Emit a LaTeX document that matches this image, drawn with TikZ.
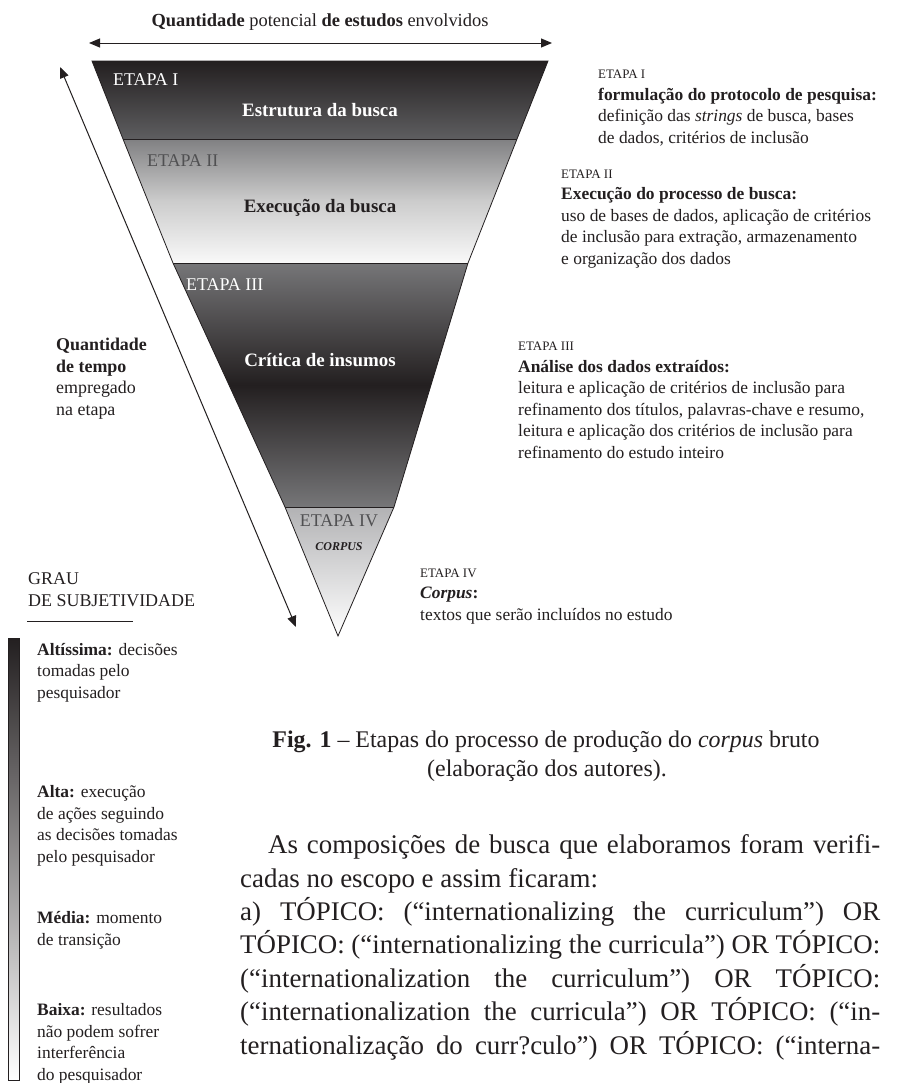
\documentclass[tikz,border=0pt]{standalone}
\usepackage{fontspec}
\setmainfont{Liberation Serif}
\usetikzlibrary{arrows.meta,positioning}

\definecolor{tinta}{HTML}{231F20}
\definecolor{cinzaI}{HTML}{5E5E60}
\definecolor{cinzaII}{HTML}{808082}
\definecolor{cinzaIII}{HTML}{767678}
\definecolor{cinzaIV}{HTML}{B2B2B4}
\definecolor{rotuloII}{HTML}{505052}

\begin{document}
\begin{tikzpicture}[x=1bp,y=-1bp,
  contorno/.style={draw=tinta, line width=0.8bp},
  seta/.style={{Triangle[length=11bp,width=9bp]}-{Triangle[length=11bp,width=9bp]}, line width=1bp, draw=tinta},
  etapa/.style={anchor=west, inner sep=0pt, font=\fontsize{18}{20}\selectfont},
  fase/.style={inner sep=0pt, font=\fontsize{19}{21}\selectfont\bfseries},
  bloco/.style={anchor=base west, align=left, inner sep=0pt, text=tinta, font=\fontsize{17.5}{21.5}\selectfont},
  texto/.style={anchor=base west, inner sep=0pt, text=tinta, font=\fontsize{27}{33}\selectfont},
  legenda/.style={inner sep=0pt, text=tinta, font=\fontsize{24}{29}\selectfont},
]
  \useasboundingbox[fill=white] (0,0) rectangle (901,1083);

  % Vértices do funil
  \coordinate (t0l) at (92,61);   \coordinate (t0r) at (548,61);
  \coordinate (t1l) at (123,139); \coordinate (t1r) at (517,139);
  \coordinate (t2l) at (173,263); \coordinate (t2r) at (468,263);
  \coordinate (t3l) at (285,507); \coordinate (t3r) at (394,507);
  \coordinate (apice) at (338,636);

  % Faixas com degradê
  \shade[top color=tinta, bottom color=cinzaI] (t0l) -- (t0r) -- (t1r) -- (t1l) -- cycle;
  \shade[top color=cinzaII, bottom color=gray!5, middle color=gray!40] (t1l) -- (t1r) -- (t2r) -- (t2l) -- cycle;
  \shade[top color=cinzaIII, bottom color=cinzaIII, middle color=tinta] (t2l) -- (t2r) -- (t3r) -- (t3l) -- cycle;
  \shade[top color=cinzaIV, bottom color=white] (t3l) -- (t3r) -- (apice) -- cycle;

  % Contorno e divisões
  \draw[contorno] (t0l) -- (t0r) -- (t1r) -- (t2r) -- (t3r) -- (apice) -- (t3l) -- (t2l) -- (t1l) -- cycle;
  \draw[contorno] (t1l) -- (t1r);
  \draw[contorno] (t2l) -- (t2r);
  \draw[contorno] (t3l) -- (t3r);

  % Rótulos dentro do funil
  \node[etapa, text=white] (e1) at (113,80) {ETAPA I};
  \node[fase, text=white] (f1) at (320,110) {Estrutura da busca};
  \node[etapa, text=rotuloII] (e2) at (147,161) {ETAPA II};
  \node[fase, text=tinta] (f2) at (320,208) {Execução da busca};
  \node[etapa, text=white] (e3) at (186,285) {ETAPA III};
  \node[fase, text=white] (f3) at (320,360) {Crítica de insumos};
  \node[etapa, anchor=center, text=rotuloII] (e4) at (339,521) {ETAPA IV};
  \node[inner sep=0pt, text=tinta, font=\fontsize{12}{14}\selectfont\bfseries\itshape] (f4) at (339,547) {CORPUS};

  % Seta horizontal: quantidade de estudos
  \coordinate (qe) at (89,43);
  \coordinate (qd) at (552,43);
  \draw[seta] (qe) -- (qd);
  \node[inner sep=0pt, text=tinta, font=\fontsize{18.5}{21}\selectfont] (titulo) at (320,22) {\textbf{Quantidade} potencial \textbf{de estudos} envolvidos};

  % Seta inclinada: quantidade de tempo
  \coordinate (te) at (60,67);
  \coordinate (tb) at (296,627);
  \draw[seta] (te) -- (tb);
  \node[bloco, font=\fontsize{18}{21.5}\selectfont] (tempo) at (56,415) {\textbf{Quantidade}\\\textbf{de tempo}\\empregado\\na etapa};

  % Descrições das etapas (âncora na última linha)
  \node[bloco] (d1) at (598,143) {{\fontsize{13}{14}\selectfont ETAPA I}\\\textbf{formulação do protocolo de pesquisa:}\\definição das \textit{strings} de busca, bases\\de dados, critérios de inclusão};
  \node[bloco] (d2) at (561,264) {{\fontsize{13}{14}\selectfont ETAPA II}\\\textbf{Execução do processo de busca:}\\uso de bases de dados, aplicação de critérios\\de inclusão para extração, armazenamento\\e organização dos dados};
  \node[bloco] (d3) at (518,458) {{\fontsize{13}{14}\selectfont ETAPA III}\\\textbf{Análise dos dados extraídos:}\\leitura e aplicação de critérios de inclusão para\\refinamento dos títulos, palavras-chave e resumo,\\leitura e aplicação dos critérios de inclusão para\\refinamento do estudo inteiro};
  \node[bloco] (d4) at (420,620) {{\fontsize{13}{14}\selectfont ETAPA IV}\\\textbf{\textit{Corpus}:}\\textos que serão incluídos no estudo};

  % Grau de subjetividade
  \node[bloco, font=\fontsize{18}{21.5}\selectfont] (grau) at (28,606) {GRAU\\DE SUBJETIVIDADE};
  \draw[tinta, line width=1bp] (27,621) -- (133,621);
  \shade[top color=tinta, bottom color=white] (8,638) rectangle (19,1080);
  \draw[tinta, line width=0.6bp] (8,638) rectangle (19,1080);
  \node[bloco] (g1) at (37,698) {\textbf{Altíssima:} decisões\\tomadas pelo\\pesquisador};
  \node[bloco] (g2) at (37,862) {\textbf{Alta:} execução\\de ações seguindo\\as decisões tomadas\\pelo pesquisador};
  \node[bloco] (g3) at (37,945) {\textbf{Média:} momento\\de transição};
  \node[bloco] (g4) at (37,1080) {\textbf{Baixa:} resultados\\não podem sofrer\\interferência\\do pesquisador};

  % Legenda da figura
  \node[legenda] (leg1) at (546,742) {\textbf{Fig. 1} – Etapas do processo de produção do \textit{corpus} bruto};
  \node[legenda] (leg2) at (547,771) {(elaboração dos autores).};

  % Texto corrido
  \node[texto] (l1) at (268,853) {\makebox[612bp][s]{As composições de busca que elaboramos foram verifi-}};
  \node[texto] (l2) at (240,887) {cadas no escopo e assim ficaram:};
  \node[texto] (l3) at (240,920) {\makebox[640bp][s]{a) TÓPICO: (“internationalizing the curriculum”) OR}};
  \node[texto] (l4) at (240,953) {\makebox[640bp][s]{TÓPICO: (“internationalizing the curricula”) OR TÓPICO:}};
  \node[texto] (l5) at (240,987) {\makebox[640bp][s]{(“internationalization the curriculum”) OR TÓPICO:}};
  \node[texto] (l6) at (240,1020) {\makebox[640bp][s]{(“internationalization the curricula”) OR TÓPICO: (“in-}};
  \node[texto] (l7) at (240,1054) {\makebox[640bp][s]{ternationalização do curr?culo”) OR TÓPICO: (“interna-}};
\end{tikzpicture}
\end{document}
